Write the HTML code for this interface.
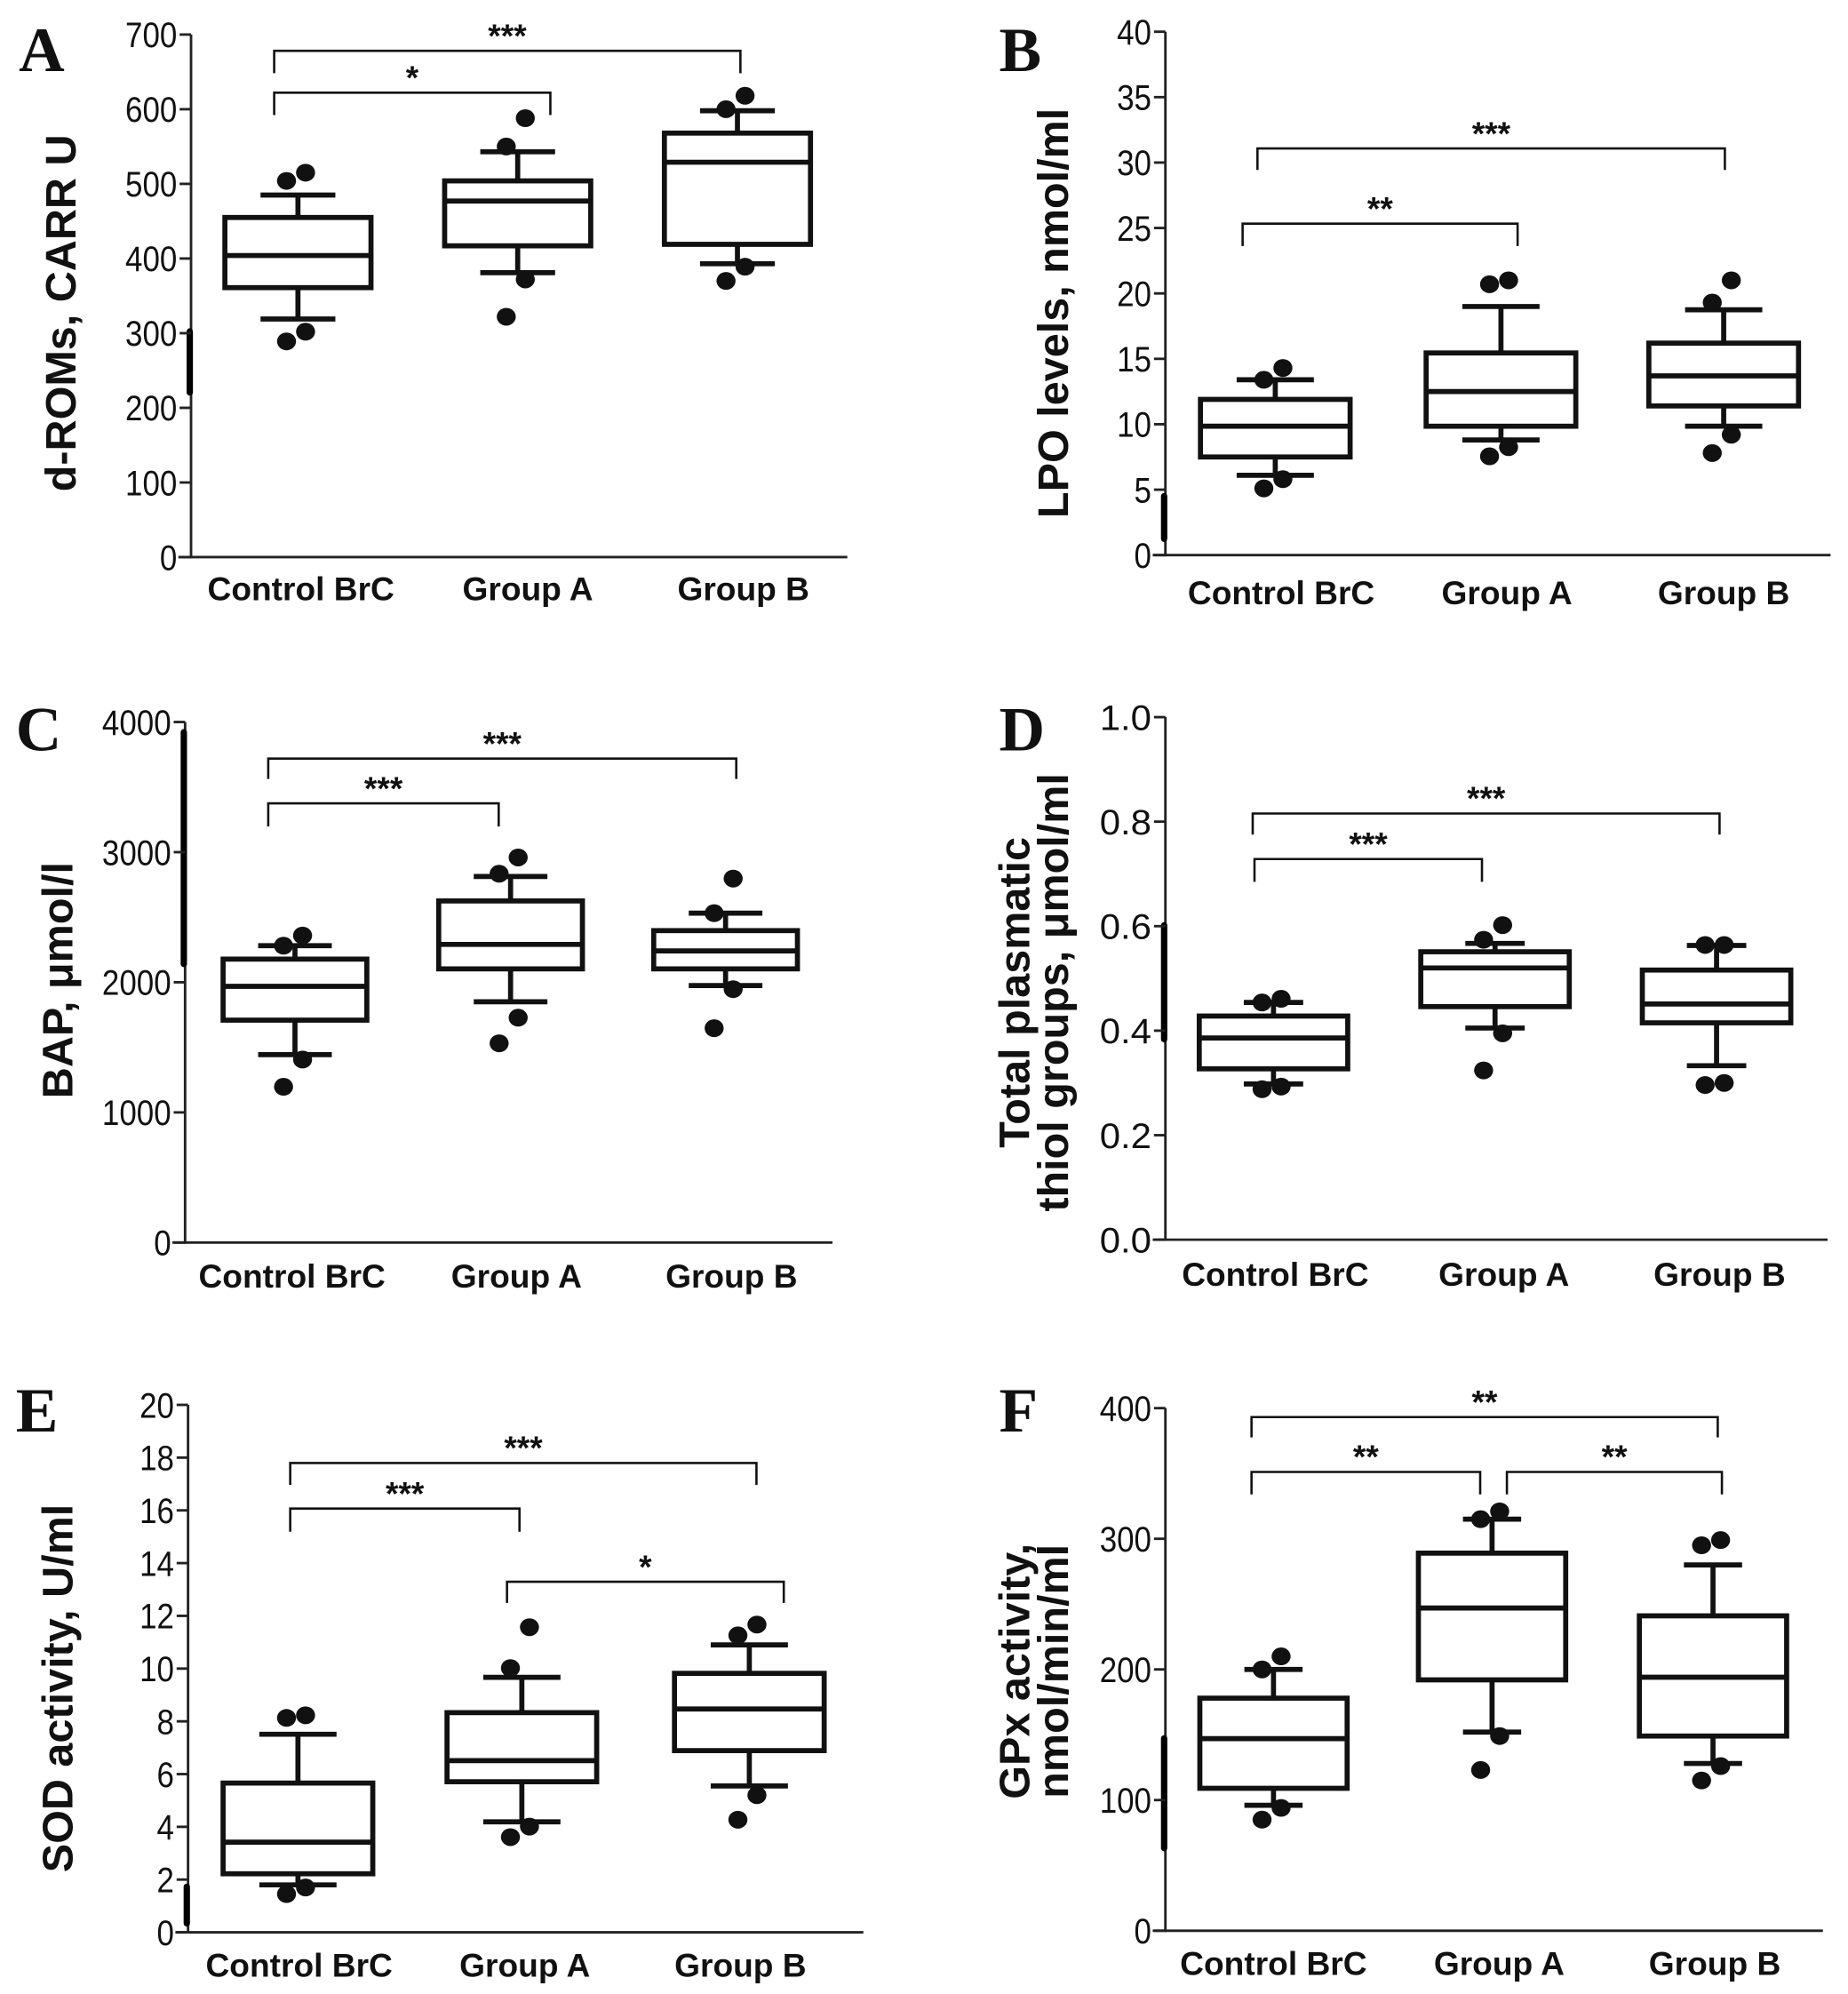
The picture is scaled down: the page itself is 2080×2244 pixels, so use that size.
<!DOCTYPE html>
<html><head><meta charset="utf-8"><style>
html,body{margin:0;padding:0;background:#fff;}
svg{display:block;}
text{font-family:"Liberation Sans",sans-serif;fill:#111;}
</style></head><body>
<svg id="fig" xmlns="http://www.w3.org/2000/svg" width="2080" height="2244" viewBox="0 0 1456 1571"></svg>
<script>
// ---------- DATA ----------
const categories = ["Control BrC", "Group A", "Group B"];
// each stat array per group: [whiskerLow, q1, median, q3, whiskerHigh]
const statsA = [[319,361,404,455,485],[381,417,477,504,543],[393,419,529,568,598]];
const outliersA = [[289,302,504,515],[322,372,550,588],[370,389,600,618]];
const statsB = [[6.1,7.5,9.85,11.9,13.4],[8.8,9.85,12.5,15.45,19.0],[9.85,11.4,13.7,16.2,18.75]];
const outliersB = [[5.1,5.8,13.4,14.3],[7.55,8.25,20.7,21.0],[7.8,9.2,19.3,21.0]];
const statsC = [[1444,1709,1969,2178,2281],[1850,2103,2291,2625,2813],[1975,2103,2241,2397,2531]];
const outliersC = [[1197,1406,2281,2359],[1531,1728,2834,2959],[1647,1947,2531,2797]];
const statsD = [[0.298,0.327,0.386,0.428,0.454],[0.405,0.446,0.520,0.551,0.567],[0.333,0.415,0.451,0.516,0.563]];
const outliersD = [[0.288,0.293,0.454,0.461],[0.324,0.395,0.574,0.602],[0.296,0.300,0.564,0.564]];
const statsE = [[1.8,2.22,3.42,5.66,7.51],[4.19,5.71,6.51,8.33,9.67],[5.55,6.89,8.47,9.82,10.9]];
const outliersE = [[1.45,1.70,8.13,8.23],[3.61,4.01,10.02,11.57],[4.27,5.2,11.26,11.67]];
const statsF = [[96,109,147,178,200],[152,192,247,289,315],[128,149,194,241,280]];
const outliersF = [[85,94,200,210],[123,149,315,321],[115,126,295,299]];
const ticksA = [0,100,200,300,400,500,600,700];
const ticksB = [0,5,10,15,20,25,30,35,40];
const ticksC = [0,1000,2000,3000,4000];
const ticksD = [0,0.2,0.4,0.6,0.8,1.0];
const ticksE = [0,2,4,6,8,10,12,14,16,18,20];
const ticksF = [0,100,200,300,400];
const tickLabelsD = ["0.0","0.2","0.4","0.6","0.8","1.0"];

// ---------- LAYOUT (zoom-space coords, converted below) ----------
const panels = [
 {id:"a",letter:"A",ox:0,oy:0,ax:330,y0:1370,yt:85,max:700,xEnd:1435,cx:[510,880,1250],lx:[515,897,1260],ly:1445,bh:123,ch:63,
  title:["d-ROMs, CARR U"],tx:[110],tcy:770,stats:statsA,out:outliersA,ticks:ticksA,
  br:[[470,935,228,283,"*"],[470,1255,125,180,"***"]],art:[815,965],lt:[40,175]},
 {id:"b",letter:"B",ox:728,oy:0,ax:415,y0:1365,yt:78,max:40,xEnd:1535,cx:[600,980,1355],lx:[610,990,1355],ly:1455,bh:126,ch:65,
  title:["LPO levels, nmol/ml"],tx:[225],tcy:770,stats:statsB,out:outliersB,ticks:ticksB,
  br:[[545,1008,550,605,"**"],[570,1357,365,418,"***"]],art:[1220,1325],lt:[135,175]},
 {id:"c",letter:"C",ox:0,oy:532,ax:320,y0:1395,yt:115,max:4000,xEnd:1410,cx:[505,868,1230],lx:[500,878,1240],ly:1475,bh:121,ch:62,
  title:["BAP, μmol/l"],tx:[105],tcy:750,stats:statsC,out:outliersC,ticks:ticksC,
  br:[[460,848,315,372,"***"],[460,1248,205,255,"***"]],art:[140,710],lt:[35,185]},
 {id:"d",letter:"D",ox:728,oy:532,ax:415,y0:1388,yt:103,max:1,xEnd:1530,cx:[597,970,1343],lx:[600,985,1348],ly:1470,bh:125,ch:50,
  title:["Total plasmatic","thiol groups, μmol/ml"],tx:[160,225],tcy:780,stats:statsD,out:outliersD,ticks:ticksD,labels:tickLabelsD,
  br:[[565,948,452,508,"***"],[562,1348,340,392,"***"]],art:[615,895],lt:[135,185]},
 {id:"e",letter:"E",ox:0,oy:1066.8,ax:325,y0:1422,yt:125,max:20,xEnd:1462,cx:[510,887,1270],lx:[512,892,1255],ly:1500,bh:126,ch:65,
  title:["SOD activity, U/ml"],tx:[105],tcy:822,stats:statsE,out:outliersE,ticks:ticksE,
  br:[[497,883,380,437,"***"],[497,1282,268,322,"***"],[862,1328,560,612,"*"]],art:[1310,1400],lt:[35,190]},
 {id:"f",letter:"F",ox:728,oy:1066.8,ax:415,y0:1418,yt:133,max:400,xEnd:1522,cx:[597,965,1337],lx:[597,977,1340],ly:1495,bh:124,ch:49,
  title:["GPx activity,","nmol/min/ml"],tx:[160,225],tcy:780,stats:statsF,out:outliersF,ticks:ticksF,
  br:[[560,945,290,345,"**"],[990,1352,290,345,"**"],[560,1345,155,205,"**"]],art:[945,1215],lt:[135,190]}
];
const SX = 0.468, SY = 0.3204, XOFF = -4;
const NS = "http://www.w3.org/2000/svg";
const svg = document.getElementById("fig");
function mk(tag, attrs, parent){
  const e = document.createElementNS(NS, tag);
  for (const k in attrs) e.setAttribute(k, attrs[k]);
  parent.appendChild(e);
  return e;
}
panels.forEach(p => {
  const X = zx => p.ox + zx*SX + XOFF;
  const Yz = zy => p.oy + zy*SY;
  const yScale = v => Yz(p.y0 + (p.yt - p.y0) * v / p.max);
  const g = mk("g", {}, svg);
  
  
  const L = mk("text", {x:X(p.lt[0]), y:Yz(p.lt[1]), "font-size":50, "font-weight":"bold", style:'font-family:"Liberation Serif",serif'}, g);
  L.textContent = p.letter;
  
  
  const ax = X(p.ax), ybot = yScale(0), ytop = yScale(p.max);
  const yl = mk("line", {x1:ax, y1:ytop, x2:ax, y2:ybot+1, stroke:"#222", "stroke-width":2}, g);
  
  
  const xl = mk("line", {x1:ax-10, y1:ybot, x2:X(p.xEnd), y2:ybot, stroke:"#222", "stroke-width":2}, g);
  
  
  const art = mk("line", {x1:ax-1, y1:Yz(p.art[0]), x2:ax-1, y2:Yz(p.art[1]), stroke:"#000", "stroke-width":5, "stroke-linecap":"round"}, g);
  
  
  p.ticks.forEach((t, i) => {
    const y = yScale(t);
    const tk = mk("line", {x1:ax-9, y1:y, x2:ax, y2:y, stroke:"#222", "stroke-width":2}, g);
    
    
    const s = p.labels ? p.labels[i] : String(t);
    const tl = mk("text", {x:ax-11, y:y+10, "font-size":28, "text-anchor":"end", textLength:s.length*13.6, lengthAdjust:"spacingAndGlyphs"}, g);
    tl.textContent = s;
    
    
  });
  const tg = mk("g", {}, g);
  
  
  p.title.forEach((t, i) => {
    const x = X(p.tx[i]) + 12, y = Yz(p.tcy);
    const tt = mk("text", {x:x, y:y, "font-size":34, "font-weight":"bold", "text-anchor":"middle", transform:`rotate(-90 ${x} ${y})`}, tg);
    tt.textContent = t;
  });
  categories.forEach((c, i) => {
    const cl = mk("text", {x:X(p.lx[i]), y:Yz(p.ly)+10, "font-size":26, "font-weight":"bold", "text-anchor":"middle"}, g);
    cl.textContent = c;
    
    
  });
  p.stats.forEach((s, i) => {
    const cx = X(p.cx[i]), bh = p.bh*SX, ch = p.ch*SX;
    const bg = mk("g", {stroke:"#111", "stroke-width":4, fill:"none"}, g);
    
    
    const [wl, q1, med, q3, wh] = s;
    mk("line", {x1:cx, y1:yScale(wl), x2:cx, y2:yScale(q1)}, bg);
    mk("line", {x1:cx, y1:yScale(q3), x2:cx, y2:yScale(wh)}, bg);
    mk("line", {x1:cx-ch, y1:yScale(wl), x2:cx+ch, y2:yScale(wl)}, bg);
    mk("line", {x1:cx-ch, y1:yScale(wh), x2:cx+ch, y2:yScale(wh)}, bg);
    mk("rect", {x:cx-bh, y:yScale(q3), width:2*bh, height:yScale(q1)-yScale(q3), fill:"#fff"}, bg);
    mk("line", {x1:cx-bh, y1:yScale(med), x2:cx+bh, y2:yScale(med)}, bg);
    p.out[i].forEach((v, k) => {
      const dx = (k % 2 === 0 ? -9 : 6);
      const d = mk("ellipse", {cx:cx+dx, cy:yScale(v), rx:7.5, ry:7, fill:"#111", stroke:"none"}, g);
      
      
    });
  });
  p.br.forEach(b => {
    const x1 = X(b[0]), x2 = X(b[1]), y = Yz(b[2]), yd = Yz(b[3]);
    const pth = mk("path", {d:`M${x1},${yd} L${x1},${y} L${x2},${y} L${x2},${yd}`, stroke:"#111", "stroke-width":1.8, fill:"none"}, g);
    
    
    const st = mk("text", {x:(x1+x2)/2, y:y-3, "font-size":26, "font-weight":"bold", "text-anchor":"middle"}, g);
    st.textContent = b[4];
    
    
  });
});
</script>
</body></html>
